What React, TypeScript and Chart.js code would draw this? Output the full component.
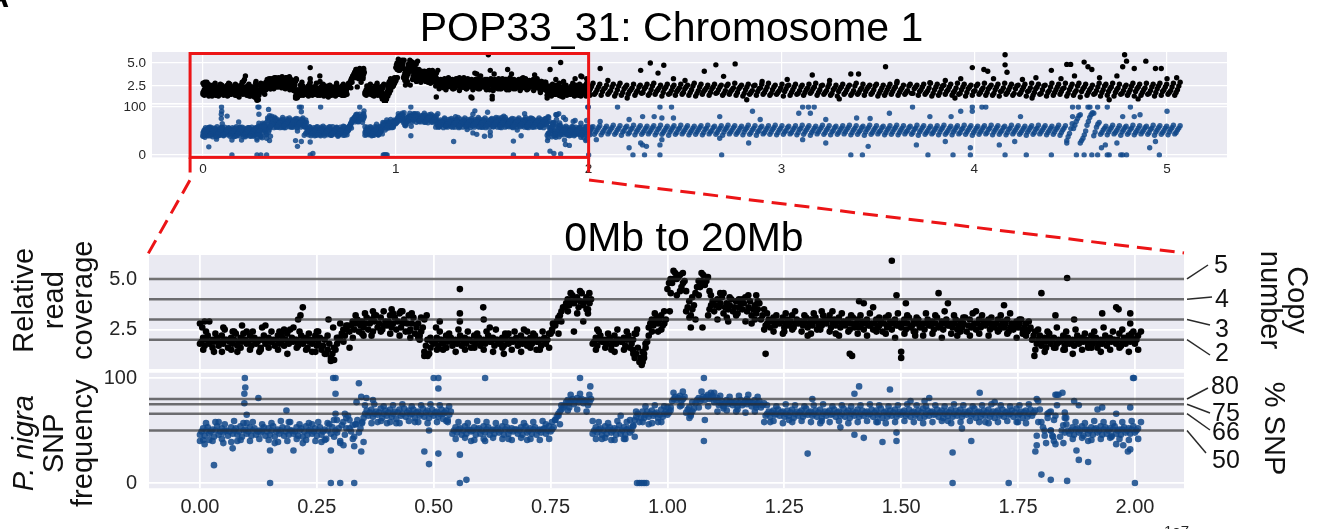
import React, { useEffect, useRef } from "react";
import { Chart, registerables } from "chart.js";

Chart.register(...registerables);

const W = 1324;
const H = 529;
const FONT = "'Liberation Sans', Arial, Helvetica, sans-serif";
const TICK_COLOR = "#262626";
const BG = "#EAEAF2";
const BLACK = "#000000";
const BLUE = "rgba(16,72,138,0.85)";

// ---------------- DATA (genomic position in units of 1e7 bp) ----------------
const BOT_STEP = 0.01; // window size of the zoomed (0-20Mb) panels
const FRINGE_STEP = 0.02; // sparser windows forming the edges of the clouds
const TOP_STEP = 0.035; // window size of the whole-chromosome panels

// zoomed panel, relative read coverage (low / mid / high part of the window cloud)
const botCovA = [
  1.8,1.7,1.8,1.9,1.7,1.8,1.6,1.8,1.7,1.9,
  1.8,1.7,1.8,1.6,1.8,1.9,1.7,1.8,1.7,1.8,
  1.9,1.7,1.8,1.6,1.8,1.7,
  1.5,1.3,1.1,1.5,
  2.0,2.2,2.4,
  2.5,2.4,2.6,2.5,2.4,2.6,2.5,2.7,2.6,2.5,2.6,2.4,2.5,2.3,2.2,
  1.4,1.3,
  1.8,1.7,1.8,1.9,1.7,1.8,1.7,1.8,1.6,1.8,
  1.7,1.8,1.9,1.7,1.8,1.7,1.8,1.9,1.7,1.8,
  1.7,1.8,1.9,1.7,1.8,
  2.3,2.7,3.2,
  3.6,3.7,3.8,3.6,3.7,3.5,
  1.8,1.7,1.9,1.8,1.7,1.8,1.9,1.7,1.6,
  1.1,0.9,1.3,
  2.6,2.7,2.8,2.7,
  4.5,4.8,5.0,4.6,
  3.4,3.2,
  4.3,4.6,4.7,
  3.5,3.4,3.6,3.3,3.5,3.4,3.3,3.5,3.4,3.2,3.3,3.0,
  2.7,2.6,2.7,2.8,2.6,2.7,2.6,2.8,2.7,2.6,2.7,2.5,2.7,2.8,2.6,2.7,2.6,2.7,2.5,2.6,
  2.6,2.5,2.7,2.5,2.6,2.4,2.6,2.5,2.7,2.6,
  2.5,2.6,2.4,2.6,2.5,2.7,2.5,2.6,2.5,2.7,
  2.6,2.5,2.6,2.4,2.6,2.5,2.6,2.7,2.5,2.6,
  2.5,2.6,2.4,2.5,2.6,2.5,2.4,
  2.0,1.8,1.7,1.9,1.8,1.6,1.9,1.7,1.8,1.7,
  1.8,1.9,1.7,1.8,1.6,1.8,1.7,1.9,1.8,1.7,
  1.8,1.9,1.8,
];
const botCovM = [
  1.9,2.0,1.9,2.0,1.9,2.0,1.9,2.0,1.9,2.0,
  1.9,2.0,1.9,2.0,1.9,1.9,2.0,1.9,2.0,1.9,
  2.0,1.9,2.0,1.9,2.0,1.9,
  1.7,1.5,1.3,1.8,
  2.3,2.5,2.7,
  2.8,2.7,2.8,2.8,2.9,2.8,2.7,2.9,2.8,2.9,2.8,2.8,2.8,2.6,2.4,
  1.7,1.6,
  1.9,2.0,1.9,2.0,1.9,2.0,1.9,2.0,1.9,2.0,
  1.9,2.0,1.9,2.0,1.9,2.0,1.9,2.0,1.9,2.0,
  1.9,2.0,1.9,2.0,2.0,
  2.5,2.9,3.4,
  3.8,3.9,4.0,3.9,3.9,3.8,
  1.9,2.0,1.9,2.0,1.9,2.0,1.9,2.0,1.8,
  1.3,1.1,1.6,
  2.8,2.9,3.0,2.8,
  4.8,5.0,5.1,4.8,
  3.6,3.5,
  4.6,4.9,4.9,
  3.7,3.7,3.8,3.6,3.7,3.6,3.6,3.8,3.6,3.5,3.5,3.2,
  2.8,2.9,2.8,2.9,2.8,2.9,2.8,2.9,2.9,2.8,2.9,2.7,2.8,3.0,2.8,2.9,2.8,2.8,2.8,2.8,
  2.7,2.8,2.7,2.8,2.7,2.8,2.7,2.8,2.7,2.8,
  2.8,2.7,2.8,2.7,2.8,2.7,2.8,2.7,2.8,2.7,
  2.8,2.7,2.8,2.7,2.7,2.8,2.7,2.8,2.7,2.8,
  2.7,2.8,2.6,2.7,2.8,2.6,2.5,
  2.2,2.0,1.9,2.1,2.0,1.8,2.0,1.9,1.9,2.0,
  1.9,2.0,1.9,2.0,1.8,2.0,1.9,2.0,2.0,1.9,
  2.0,2.1,2.0,
];
const botCovB = [
  2.1,2.2,2.0,2.1,2.2,2.0,2.1,2.3,2.1,2.0,
  2.2,2.1,2.0,2.2,2.1,2.0,2.2,2.1,2.3,2.1,
  2.0,2.2,2.1,2.0,2.2,2.1,
  2.0,1.8,1.6,2.1,
  2.5,2.7,2.9,
  3.0,2.9,3.1,3.0,3.2,3.1,2.9,3.2,3.1,3.3,3.0,3.2,3.1,2.8,2.6,
  2.0,1.9,
  2.1,2.0,2.2,2.1,2.0,2.2,2.1,2.0,2.2,2.1,
  2.0,2.2,2.1,2.0,2.1,2.2,2.0,2.1,2.2,2.0,
  2.1,2.2,2.0,2.1,2.3,
  2.7,3.1,3.6,
  4.0,4.2,4.1,4.3,4.1,4.0,
  2.1,2.2,2.0,2.1,2.2,2.0,2.1,2.2,2.0,
  1.6,1.4,1.9,
  3.0,3.1,3.2,3.0,
  5.0,5.3,5.2,4.9,
  3.9,3.7,
  4.9,5.2,5.1,
  3.9,4.0,4.1,3.8,4.0,3.9,3.8,4.1,3.9,3.7,3.8,3.5,
  3.0,3.1,2.9,3.1,3.0,3.2,3.0,2.9,3.1,3.0,3.1,2.9,3.0,3.2,3.0,3.1,2.9,3.0,3.1,3.0,
  2.9,3.0,2.8,3.0,2.9,3.1,2.9,3.0,2.8,3.0,
  3.1,2.9,3.0,2.8,3.0,2.9,3.1,2.9,3.0,2.8,
  3.0,2.9,3.1,3.0,2.8,3.0,2.9,3.0,2.8,3.0,
  2.9,3.0,2.8,2.9,3.0,2.8,2.6,
  2.4,2.2,2.1,2.3,2.1,2.0,2.2,2.1,2.0,2.2,
  2.1,2.0,2.2,2.1,2.0,2.2,2.1,2.0,2.3,2.1,
  2.2,2.4,2.2,
];
// sparser lower / upper edge of the coverage cloud
const botCovLo = [
  1.5,1.6,1.4,1.5,1.6,1.5,1.4,1.6,1.5,1.3,1.6,1.5,1.4,
  1.3,1.0,1.9,
  2.1,2.3,2.2,2.4,2.3,2.2,2.4,2.1,
  1.2,
  1.5,1.6,1.4,1.5,1.6,1.5,1.4,1.6,1.5,1.4,1.6,1.5,1.6,
  2.3,
  3.4,3.3,3.5,
  1.5,1.6,1.4,1.5,1.3,
  0.9,
  2.4,2.5,
  4.3,4.4,
  3.1,
  4.2,
  3.2,3.0,3.1,3.2,2.9,3.0,
  2.5,2.4,2.3,2.5,2.4,2.3,2.5,2.4,2.2,2.4,
  2.3,2.2,2.4,2.3,2.1,2.3,2.4,2.2,2.3,2.1,2.3,2.4,2.2,2.3,2.2,2.4,2.3,2.1,2.2,
  1.5,1.4,1.6,1.5,1.3,1.5,1.6,1.4,1.5,1.6,1.4,1.5,
];
const botCovHi = [
  2.4,2.3,2.5,2.4,2.3,2.4,2.6,2.4,2.3,2.5,2.4,2.3,2.4,
  2.2,2.1,2.7,
  3.2,3.3,3.2,3.4,3.3,3.4,3.3,3.1,
  2.1,
  2.4,2.3,2.5,2.4,2.3,2.4,2.5,2.3,2.4,2.5,2.3,2.4,2.4,
  2.9,
  4.3,4.4,4.3,
  2.4,2.3,2.5,2.4,2.3,
  1.8,
  3.3,3.4,
  5.4,5.3,
  4.1,
  5.3,
  4.2,4.3,4.1,4.0,4.2,3.9,
  3.3,3.2,3.3,3.4,3.2,3.3,3.2,3.4,3.3,3.2,
  3.2,3.3,3.1,3.2,3.3,3.2,3.1,3.3,3.2,3.4,3.2,3.1,3.3,3.2,3.1,3.2,3.3,3.0,2.9,
  2.5,2.4,2.6,2.4,2.5,2.3,2.4,2.6,2.4,2.5,2.3,2.4,
];
const botCovOut = [
  [0.0,2.8],[0.005,2.6],[0.01,2.9],[0.02,2.9],[0.03,1.4],[0.05,2.6],[0.07,2.4],[0.08,1.4],
  [0.09,2.7],[0.1,2.4],[0.13,1.5],[0.14,2.7],[0.17,2.4],[0.18,2.5],[0.2,2.6],[0.21,3.0],
  [0.215,3.2],[0.24,1.4],[0.22,3.6],[0.25,2.4],[0.28,0.95],[0.275,3.0],[0.285,2.6],[0.3,2.8],
  [0.32,1.6],[0.35,2.2],[0.37,3.4],[0.41,3.5],[0.43,3.4],[0.45,2.1],[0.47,2.0],[0.48,1.2],
  [0.49,1.3],[0.48,3.0],[0.485,3.2],[0.505,2.6],[0.513,2.9],[0.52,1.5],[0.556,4.5],[0.556,3.3],
  [0.556,2.9],[0.606,3.6],[0.607,3.0],[0.62,2.6],[0.65,1.3],[0.66,2.3],[0.7,2.4],[0.72,1.5],
  [0.755,2.8],[0.8,2.4],[0.82,2.9],[0.83,3.3],[0.85,2.5],[0.88,1.5],[0.926,1.5],[0.93,2.3],
  [0.935,2.5],[0.945,0.75],[0.95,1.1],[0.96,2.2],[0.98,2.4],[1.005,3.4],[1.02,4.2],[1.04,4.4],
  [1.05,2.6],[1.06,3.0],[1.075,2.6],[1.09,4.4],[1.12,4.3],[1.13,2.9],[1.16,4.0],[1.18,2.8],
  [1.19,4.2],[1.21,1.3],[1.25,2.4],[1.3,2.2],[1.33,3.4],[1.36,2.3],[1.395,1.2],[1.41,3.9],
  [1.39,1.3],[1.42,3.8],[1.44,3.6],[1.48,5.9],[1.49,4.2],[1.5,1.4],[1.5,1.1],[1.51,3.8],
  [1.53,2.2],[1.58,4.3],[1.6,3.8],[1.62,2.2],[1.66,3.4],[1.72,3.7],[1.76,2.3],[1.785,1.2],
  [1.8,4.3],[1.81,1.6],[1.83,3.2],[1.855,5.05],[1.85,1.5],[1.87,3.0],[1.9,1.6],[1.93,3.3],
  [1.96,3.6],[1.965,3.5],[1.97,1.7],[1.99,3.3],[1.99,2.8],[2.0,2.0],
];

// zoomed panel, P. nigra SNP frequency (%)
const botSnpA = [
  46,45,47,44,46,48,45,47,46,44,47,45,46,48,45,46,44,47,45,46,47,45,44,46,47,45,46,
  42,47,50,40,46,52,44,48,
  62,64,63,65,62,64,63,61,64,63,65,62,64,63,62,64,63,61,60,
  47,48,46,47,49,46,47,48,46,47,48,46,47,49,47,46,48,47,46,48,47,49,
  60,68,74,76,75,77,76,74,
  47,48,46,47,48,46,47,46,48,
  60,58,
  62,63,64,62,63,65,
  78,79,78,
  67,66,
  76,78,79,80,77,
  74,73,75,74,73,74,75,73,74,72,
  64,63,65,64,63,64,62,64,63,65,
  64,63,62,64,65,63,64,63,62,64,
  63,64,65,63,64,62,63,64,63,65,
  64,63,64,62,63,64,65,63,62,64,
  63,64,63,65,64,62,63,64,63,62,
  64,63,65,63,64,62,63,64,
  45,58,38,50,64,44,62,
  47,46,48,45,47,46,48,46,47,45,47,46,48,47,48,
];
const botSnpM = [
  49,50,49,50,49,50,49,50,49,50,49,50,49,50,49,50,49,50,49,50,49,50,49,50,49,50,49,
  50,53,48,55,52,49,56,52,
  66,67,66,67,66,67,66,67,66,67,66,67,66,67,66,67,66,67,65,
  50,51,50,51,50,51,50,51,50,51,50,51,50,51,50,51,50,51,50,51,50,51,
  63,70,77,78,78,79,78,77,
  50,51,50,51,50,51,50,51,50,
  63,62,
  65,66,66,65,66,67,
  80,81,80,
  70,68,
  79,80,82,81,79,
  76,76,77,76,76,76,77,76,76,74,
  66,67,66,67,66,67,66,67,66,67,
  66,67,66,67,66,67,66,67,66,67,
  66,67,66,67,66,67,66,67,66,67,
  66,67,66,67,66,67,66,67,66,67,
  66,67,66,67,66,67,66,67,66,67,
  66,67,66,67,66,67,66,67,
  58,53,62,45,74,50,56,
  50,51,50,51,50,51,50,51,50,51,50,51,50,51,50,
];
const botSnpB = [
  52,53,51,54,52,50,53,52,54,51,53,52,50,53,52,54,51,53,52,50,53,52,54,51,52,53,51,
  56,60,52,58,64,55,60,57,
  69,70,68,71,69,70,68,70,71,69,70,68,71,69,70,68,70,69,68,
  53,52,54,51,53,52,54,53,51,52,54,53,52,51,53,54,52,53,51,52,54,53,
  66,72,79,80,81,80,79,80,
  53,52,54,53,52,55,53,52,54,
  66,68,
  68,69,67,70,68,69,
  82,83,82,
  72,71,
  81,82,84,83,81,
  78,79,77,78,79,78,77,79,78,76,
  68,69,70,68,69,70,68,69,71,68,
  69,70,68,69,70,68,71,69,68,70,
  69,68,70,69,71,68,69,70,68,69,
  70,68,69,71,69,68,70,69,68,70,
  69,70,68,69,71,68,69,70,68,69,
  70,68,69,71,68,69,70,69,
  70,50,67,40,84,55,50,
  53,52,54,51,53,52,54,53,52,54,51,53,52,54,52,
];
const botSnpLo = [
  41,40,42,39,41,40,42,41,39,40,42,41,40,
  41,44,36,42,
  58,57,59,58,57,59,58,57,58,59,
  42,43,41,42,43,42,41,43,42,41,42,
  64,
  69,70,68,
  42,43,41,42,
  55,
  58,57,58,
  72,73,
  62,
  72,73,
  68,69,68,67,68,
  58,59,57,58,59,58,57,58,59,57,58,59,58,57,58,59,58,57,58,59,57,58,59,58,57,58,59,58,57,
  30,45,60,38,
  42,43,41,42,43,42,41,42,
];
const botSnpHi = [
  57,58,56,59,57,58,56,57,59,58,56,57,58,
  57,60,62,56,
  74,75,73,74,75,73,74,75,74,73,
  58,57,59,58,57,58,59,57,58,59,58,
  74,
  84,85,84,
  58,57,59,58,
  68,
  73,74,73,
  86,87,
  77,
  87,86,
  83,82,83,84,82,
  74,73,75,74,73,74,75,73,74,73,74,75,74,73,74,75,74,73,74,73,75,74,73,74,75,74,73,74,75,
  78,66,84,62,
  58,57,59,58,57,58,59,58,
];
const botSnpOut = [
  [0.0,40],[0.01,37],[0.02,41],[0.03,17],[0.04,58],[0.05,38],[0.07,33],[0.08,40],[0.096,100],
  [0.097,91],[0.095,85],[0.095,76],[0.1,65],[0.1,57],[0.125,81],[0.15,31],[0.15,0],[0.16,38],
  [0.185,69],[0.19,58],[0.2,31],[0.22,38],[0.24,56],[0.26,39],[0.28,31],[0.285,100],[0.29,100],
  [0.29,85],[0.29,66],[0.28,0],[0.3,0],[0.3,38],[0.31,66],[0.32,60],[0.33,0],[0.33,35],[0.335,77],
  [0.34,95],[0.345,82],[0.345,30],[0.35,39],[0.356,81],[0.37,79],[0.38,58],[0.4,57],[0.42,57],
  [0.46,58],[0.48,30],[0.49,18],[0.49,50],[0.5,100],[0.51,100],[0.51,90],[0.51,28],[0.52,66],
  [0.53,58],[0.556,27],[0.556,0],[0.57,3],[0.58,40],[0.61,100],[0.61,40],[0.66,42],[0.7,41],
  [0.74,56],[0.76,60],[0.77,56],[0.79,72],[0.813,100],[0.835,92],[0.84,59],[0.86,42],[0.88,41],
  [0.9,64],[0.91,42],[0.92,60],[0.93,44],[0.935,0],[0.94,0],[0.945,0],[0.95,0],[0.955,0],
  [0.96,56],[0.98,58],[1.0,72],[1.03,74],[1.05,64],[1.078,100],[1.078,40],[1.08,60],[1.1,86],
  [1.12,71],[1.15,70],[1.17,80],[1.19,72],[1.22,58],[1.26,60],[1.3,28],[1.31,80],[1.33,59],
  [1.37,53],[1.4,85],[1.4,46],[1.41,92],[1.42,43],[1.45,58],[1.46,39],[1.476,89],[1.49,40],
  [1.49,48],[1.52,78],[1.56,81],[1.55,78],[1.6,59],[1.61,29],[1.61,0],[1.63,52],[1.65,40],
  [1.668,86],[1.68,58],[1.7,77],[1.73,0],[1.75,58],[1.79,80],[1.79,36],[1.8,8],[1.82,3],
  [1.82,50],[1.82,68],[1.825,44],[1.83,37],[1.83,84],[1.845,86],[1.85,67],[1.855,2],[1.85,48],
  [1.87,78],[1.88,74],[1.875,31],[1.88,22],[1.9,20],[1.9,40],[1.92,70],[1.93,72],[1.95,44],
  [1.96,66],[1.96,37],[1.975,36],[1.99,32],[1.99,72],[1.985,30],[1.996,100],[1.998,100],[2.0,0],
];

// whole chromosome, relative read coverage (five parts of the window cloud, low to high: A D B E C)
const topCovA = [
  1.6,1.7,1.5,1.7,1.6,1.5,1.7,1.6, 1.2, 2.3,2.2,2.4,2.3,2.2, 1.3,
  1.6,1.7,1.5,1.6,1.7,1.6,1.5, 3.3,3.4, 1.6,1.7,1.6, 0.9, 2.4, 4.2, 3.3, 4.1, 3.1,3.0,3.2,
  2.2,2.1,2.2,2.0,2.2,2.1,2.2,2.1,2.0,2.2,2.1,2.2,2.0,2.1,2.0,1.8,
  1.5,1.6,1.4,1.6,1.5,1.4,1.6,
  1.6,1.5,1.6,1.4,1.5,1.6,1.5,1.7,1.5,1.6,
  1.4,1.6,1.5,1.6,1.5,1.4,1.6,1.5,1.7,1.5,
  1.6,1.5,1.4,1.6,1.5,1.6,1.5,1.6,1.4,1.5,
  1.6,1.5,1.7,1.5,1.6,1.5,1.4,1.6,1.5,1.6,
  1.5,1.6,1.4,1.5,1.6,1.5,1.6,1.7,1.5,1.6,
  1.4,1.5,1.6,1.5,1.6,1.4,1.5,1.6,1.5,1.5,
  1.4,1.6,1.5,1.6,1.4,1.5,1.6,1.4,1.5,1.6,
  1.4,1.5,1.3,1.5,1.6,1.4,1.5,1.4,1.6,1.5,
  1.4,1.5,1.6,1.4,1.5,1.6,1.5,
];
const topCovD = [
  1.9,2.0,1.8,1.9,2.0,1.8,1.9,1.9, 1.5, 2.5,2.6,2.5,2.6,2.5, 1.6,
  1.9,2.0,1.8,1.9,2.0,1.9,1.8, 3.5,3.6, 1.9,1.8,1.9, 1.1, 2.6, 4.5, 3.5, 4.4, 3.3,3.3,3.4,
  2.4,2.4,2.5,2.3,2.4,2.4,2.5,2.4,2.3,2.4,2.4,2.5,2.3,2.4,2.3,2.1,
  1.8,1.9,1.7,1.9,1.8,1.7,1.9,
  1.8,1.9,1.8,1.7,1.8,1.9,1.8,1.8,1.7,1.9,
  1.8,1.7,1.9,1.8,1.8,1.7,1.9,1.8,1.8,1.7,
  1.9,1.8,1.7,1.8,1.9,1.8,1.7,1.8,1.9,1.8,
  1.7,1.8,1.9,1.8,1.8,1.7,1.9,1.8,1.7,1.8,
  1.9,1.8,1.7,1.8,1.9,1.8,1.8,1.7,1.9,1.8,
  1.7,1.8,1.9,1.8,1.7,1.8,1.9,1.8,1.8,1.7,
  1.9,1.8,1.7,1.8,1.9,1.8,1.7,1.8,1.8,1.9,
  1.7,1.8,1.9,1.8,1.7,1.8,1.9,1.8,1.7,1.8,
  1.9,1.8,1.7,1.8,1.9,1.8,1.8,
];
const topCovB = [
  2.2,2.1,2.3,2.2,2.1,2.3,2.2,2.1, 1.8, 2.8,2.9,2.7,2.9,2.8, 1.9,
  2.2,2.1,2.2,2.3,2.1,2.2,2.3, 3.8,3.9, 2.2,2.1,2.2, 1.4, 2.9, 4.8, 3.8, 4.7, 3.6,3.5,3.7,
  2.7,2.6,2.7,2.8,2.6,2.7,2.6,2.7,2.8,2.6,2.7,2.6,2.7,2.6,2.5,2.4,
  2.1,2.2,2.0,2.2,2.1,2.0,2.2,
  2.1,2.2,2.0,2.1,2.2,2.1,2.0,2.2,2.1,2.1,
  2.2,2.0,2.1,2.2,2.1,2.0,2.1,2.2,2.1,2.0,
  2.1,2.2,2.1,2.0,2.2,2.1,2.1,2.0,2.2,2.1,
  2.0,2.1,2.2,2.1,2.0,2.1,2.2,2.1,2.0,2.1,
  2.2,2.1,2.0,2.1,2.2,2.1,2.0,2.2,2.1,2.0,
  2.1,2.2,2.1,2.0,2.1,2.2,2.0,2.1,2.2,2.1,
  2.0,2.1,2.2,2.1,2.0,2.2,2.1,2.0,2.1,2.2,
  2.1,2.0,2.2,2.1,2.0,2.1,2.2,2.1,2.0,2.1,
  2.2,2.1,2.0,2.2,2.1,2.0,2.1,
];
const topCovE = [
  2.5,2.4,2.5,2.6,2.4,2.5,2.5,2.4, 2.1, 3.1,3.1,3.0,3.2,3.1, 2.2,
  2.5,2.4,2.5,2.5,2.4,2.5,2.6, 4.1,4.1, 2.5,2.4,2.5, 1.7, 3.1, 5.0, 4.1, 4.9, 3.9,3.8,3.9,
  3.0,2.9,3.0,3.0,2.9,3.0,2.9,3.0,3.0,2.9,3.0,2.9,3.0,2.9,2.8,2.7,
  2.4,2.5,2.3,2.5,2.4,2.3,2.5,
  2.4,2.3,2.4,2.5,2.4,2.3,2.4,2.4,2.5,2.3,
  2.4,2.4,2.3,2.4,2.5,2.4,2.3,2.4,2.4,2.5,
  2.3,2.4,2.4,2.5,2.3,2.4,2.4,2.3,2.5,2.4,
  2.4,2.3,2.4,2.5,2.4,2.3,2.4,2.4,2.5,2.3,
  2.4,2.5,2.3,2.4,2.4,2.3,2.5,2.4,2.4,2.3,
  2.4,2.5,2.4,2.3,2.4,2.4,2.5,2.3,2.4,2.4,
  2.3,2.4,2.5,2.4,2.3,2.4,2.5,2.4,2.4,2.3,
  2.4,2.5,2.4,2.3,2.4,2.5,2.4,2.3,2.4,2.5,
  2.4,2.3,2.4,2.5,2.4,2.4,2.5,
];
const topCovC = [
  2.7,2.8,2.6,2.8,2.7,2.9,2.7,2.8, 2.4, 3.3,3.4,3.3,3.5,3.3, 2.5,
  2.7,2.8,2.7,2.6,2.8,2.7,2.8, 4.3,4.4, 2.7,2.8,2.7, 2.0, 3.4, 5.3, 4.3, 5.2, 4.1,4.0,4.2,
  3.2,3.1,3.3,3.2,3.1,3.3,3.2,3.1,3.3,3.2,3.1,3.2,3.3,3.1,3.0,2.9,
  2.7,2.8,2.6,2.8,2.7,2.6,2.8,
  2.7,2.6,2.7,2.8,2.6,2.7,2.6,2.7,2.8,2.6,
  2.7,2.6,2.7,2.6,2.8,2.7,2.6,2.7,2.6,2.7,
  2.8,2.6,2.7,2.6,2.7,2.8,2.6,2.7,2.6,2.7,
  2.6,2.7,2.8,2.6,2.7,2.6,2.7,2.6,2.8,2.7,
  2.6,2.7,2.6,2.7,2.8,2.6,2.7,2.6,2.7,2.8,
  2.7,2.6,2.7,2.8,2.7,2.6,2.7,2.8,2.6,2.7,
  2.8,2.7,2.6,2.7,2.8,2.7,2.6,2.8,2.7,2.8,
  2.7,2.8,2.7,2.6,2.8,2.7,2.8,2.7,2.6,2.8,
  2.7,2.8,2.7,2.8,2.7,2.8,2.9,
];
const topCovOut = [
  [2.06,4.4],[2.1,3.1],[2.27,4.2],[2.32,5.0],[2.36,3.9],[2.39,4.75],[2.44,3.3],[2.5,3.1],
  [2.6,4.1],[2.66,4.8],[2.7,3.55],[2.76,4.9],[2.82,1.0],[2.9,3.0],[3.03,3.2],[3.16,3.7],
  [3.25,3.1],[3.36,3.8],[3.4,3.8],[3.54,4.6],[3.6,3.0],[3.77,2.85],[3.85,3.1],[3.93,3.3],
  [3.99,4.5],[4.05,4.3],[4.07,4.1],[4.1,3.3],[4.16,5.9],[4.16,4.8],[4.17,4.0],[4.25,3.2],
  [4.32,3.4],[4.4,4.2],[4.45,3.3],[4.48,4.85],[4.5,4.85],[4.52,3.6],[4.57,5.1],[4.59,4.6],
  [4.61,4.3],[4.65,3.4],[4.74,3.6],[4.77,4.6],[4.78,5.9],[4.79,5.2],[4.83,4.4],[4.89,5.2],
  [4.94,4.4],[4.97,4.4],[5.0,3.3],[5.05,3.4],[2.2,1.2],[3.3,1.1],[3.9,1.2],[4.3,1.2],
  [4.7,1.0],[4.85,1.1],
];

// whole chromosome, SNP frequency (%) (five parts, low to high: A D B E C)
const topSnpA = [
  39,40,38,41,39,40,38,39, 35, 59,60,58,61,59,58,
  41,40,42,40,41,39,41, 68,69, 41,40,42, 52, 57, 71, 61, 69,70,68,69,
  59,60,58,60,59,61,58,60,59,58,60,59,61,59,58,60,
  41,40,42,41,40,42,41,
  43,42,44,43,41,44,42,43,44,42,
  43,41,43,44,42,43,42,44,43,41,
  44,43,42,43,41,44,43,42,43,44,
  42,43,41,44,43,42,43,44,42,43,
  41,43,44,42,43,42,44,43,41,43,
  44,42,43,42,44,43,41,43,44,42,
  43,42,44,43,41,43,44,42,43,41,
  30,55,25,62,40,43,42,44,41,43,
  42,44,43,41,43,42,44,
];
const topSnpD = [
  44,43,44,43,45,44,43,44, 42, 63,64,63,64,63,63,
  45,45,46,45,45,44,46, 72,73, 45,44,46, 56, 61, 75, 65, 73,74,72,73,
  63,64,63,64,63,64,63,64,63,63,64,63,64,63,63,64,
  45,44,46,45,44,46,45,
  48,47,48,47,48,47,48,47,48,47,
  47,48,47,48,47,48,47,48,47,48,
  48,47,48,47,48,47,48,47,48,47,
  47,48,47,48,47,48,47,48,47,48,
  48,47,48,47,48,47,48,47,48,47,
  47,48,47,48,47,48,47,48,47,48,
  48,47,48,47,48,47,48,47,48,47,
  38,62,30,70,48,47,48,47,48,47,
  47,48,47,48,47,48,47,
];
const topSnpB = [
  48,49,47,48,50,48,47,49, 50, 68,69,67,68,69,67,
  50,49,51,50,49,50,51, 77,78, 50,49,51, 60, 66, 80, 70, 78,79,77,78,
  68,69,67,68,69,68,67,69,68,67,69,68,69,67,68,69,
  50,49,51,50,49,51,50,
  52,51,53,52,51,53,52,51,52,53,
  51,52,53,52,51,52,53,51,52,53,
  52,51,53,52,51,52,53,52,51,52,
  53,52,51,53,52,51,52,53,52,51,
  53,52,51,52,53,52,51,53,52,51,
  52,53,51,52,53,52,51,52,53,52,
  51,53,52,51,52,53,52,51,53,52,
  45,70,35,78,58,52,53,51,52,53,
  51,52,53,52,51,53,52,
];
const topSnpE = [
  53,52,53,52,54,53,52,53, 57, 72,73,72,73,72,72,
  55,54,55,54,55,54,55, 81,82, 55,54,55, 64, 70, 84, 74, 82,83,81,82,
  72,73,72,73,72,73,72,73,72,72,73,72,73,72,72,73,
  55,54,55,54,55,54,55,
  57,56,57,56,57,56,57,56,57,56,
  56,57,56,57,56,57,56,57,56,57,
  57,56,57,56,57,56,57,56,57,56,
  56,57,56,57,56,57,56,57,56,57,
  57,56,57,56,57,56,57,56,57,56,
  56,57,56,57,56,57,56,57,56,57,
  57,56,57,56,57,56,57,56,57,56,
  55,76,42,84,64,56,57,56,57,56,
  56,57,56,57,56,57,56,
];
const topSnpC = [
  57,56,58,57,56,58,57,56, 62, 77,76,78,77,76,77,
  59,58,60,59,58,60,59, 85,86, 59,58,60, 68, 74, 88, 78, 86,87,85,86,
  77,76,78,77,76,78,77,76,77,78,76,77,78,76,77,76,
  59,58,60,59,58,60,59,
  61,60,62,61,60,62,61,60,61,62,
  60,61,62,61,60,61,62,60,61,62,
  61,60,62,61,60,61,62,61,60,61,
  62,61,60,62,61,60,61,62,61,60,
  62,61,60,61,62,61,60,62,61,60,
  61,62,60,61,62,61,60,61,62,61,
  60,62,61,60,61,62,61,60,62,61,
  65,82,50,88,68,60,62,61,60,62,
  61,60,62,61,60,62,61,
];
const topSnpOut = [
  [2.15,100],[2.37,100],[2.43,100],[3.11,100],[3.14,100],[3.17,100],[3.68,100],[3.99,100],
  [4.04,100],[4.06,100],[4.51,100],[4.54,100],[4.59,100],[4.6,100],[4.64,100],[4.69,100],[4.81,100],
  [2.06,70],[2.21,74],[2.28,80],[2.34,80],[2.38,77],[2.44,77],[2.68,80],[2.85,91],[2.89,74],
  [3.09,87],[3.15,87],[3.23,74],[3.39,77],[3.46,76],[3.56,87],[3.77,80],[3.88,80],[3.93,91],
  [3.99,91],[4.24,80],[4.51,80],[4.55,84],[4.62,87],[4.77,80],[4.83,80],[4.86,84],[5.0,91],
  [2.04,32],[2.21,15],[2.27,25],[2.28,21],[2.3,18],[2.37,21],[2.38,32],[2.68,35],[2.83,25],
  [3.11,32],[3.23,25],[3.45,18],[3.7,21],[3.85,28],[3.98,15],[4.13,21],[4.21,28],[4.48,25],
  [4.66,15],[4.68,21],[4.74,25],[4.91,15],[4.94,28],
  [2.23,0],[2.29,0],[2.37,0],[2.69,0],[3.36,0],[3.42,0],[3.76,0],[3.89,0],[3.98,0],[4.16,0],
  [4.27,0],[4.4,0],[4.53,0],[4.57,0],[4.61,0],[4.64,0],[4.69,0],[4.7,0],[4.76,0],[4.77,0],
  [4.79,0],[4.96,0],
];

// axes / annotation values
const topXTicks = [0, 1, 2, 3, 4, 5];
const botXTicks = [0, 0.25, 0.5, 0.75, 1, 1.25, 1.5, 1.75, 2];
const covTicks = [2.5, 5.0];
const snpTicks = [0, 100];
const copyLevels = [5, 4, 3, 2];
const snpLevels = [80, 75, 66, 50];
const zoomWindow = [-0.067, 2.0];

// ---------------- LAYOUT ----------------
const TC = { l: 152, t: 52, r: 1227, b: 103 };
const TS = { l: 152, t: 104.6, r: 1227, b: 157.4 };
const BC = { l: 149, t: 255, r: 1184, b: 369 };
const BS = { l: 149, t: 372.75, r: 1184, b: 488.25 };
const Y_AXIS_W = 100;
const copyLabelPos = [[1221, 264], [1222, 298], [1222, 328], [1222, 352]];
const copyLeaderEnd = [[1208, 265], [1212, 297], [1210, 325], [1210, 355]];
const snpLabelPos = [[1225, 385], [1226, 412], [1226, 431], [1226, 459]];
const snpLeaderEnd = [[1208, 388], [1210, 413], [1210, 430], [1206, 453]];

const rowPts = (vals: number[], step: number, off: number) =>
  vals.map((v, i) => ({ x: i * step + off, y: v }));
const pairPts = (p: number[][]) => p.map(([x, y]) => ({ x, y }));

const ds = (data: any[], color: string, r: number) => ({
  data,
  pointRadius: r,
  pointHoverRadius: r,
  pointBackgroundColor: color,
  pointBorderWidth: 0,
  pointBorderColor: color,
  showLine: false,
});

const bgPlugin = {
  id: "bgfill",
  beforeDraw(chart: any) {
    const { ctx, chartArea: a } = chart;
    ctx.save();
    ctx.fillStyle = BG;
    ctx.fillRect(a.left, a.top, a.right - a.left, a.bottom - a.top);
    ctx.restore();
  },
};

const refLinesPlugin = (levels: number[]) => ({
  id: "reflines",
  afterDatasetsDraw(chart: any) {
    const { ctx, chartArea: a } = chart;
    const ys = chart.scales.y;
    ctx.save();
    ctx.strokeStyle = "rgba(40,40,40,0.65)";
    ctx.lineWidth = 2.5;
    levels.forEach((v) => {
      const y = ys.getPixelForValue(v);
      ctx.beginPath();
      ctx.moveTo(a.left, y);
      ctx.lineTo(a.right, y);
      ctx.stroke();
    });
    ctx.restore();
  },
});

const leaderPlugin = (levels: number[], ends: number[][]) => ({
  id: "leaders",
  afterDraw(chart: any) {
    const { ctx, chartArea: a } = chart;
    const ys = chart.scales.y;
    ctx.save();
    ctx.strokeStyle = "#2a2a2a";
    ctx.lineWidth = 1.5;
    levels.forEach((v, i) => {
      const y = ys.getPixelForValue(v);
      ctx.beginPath();
      ctx.moveTo(a.right + 3, y);
      ctx.lineTo(ends[i][0], ends[i][1]);
      ctx.stroke();
    });
    ctx.restore();
  },
});

const zoomBoxPlugin = {
  id: "zoombox",
  afterDraw(chart: any) {
    const { ctx } = chart;
    const xs = chart.scales.x;
    const x0 = xs.getPixelForValue(zoomWindow[0]);
    const x1 = xs.getPixelForValue(zoomWindow[1]);
    const top = TC.t + 1.5;
    const bot = TS.b;
    ctx.save();
    ctx.strokeStyle = "rgb(236,20,22)";
    ctx.lineWidth = 3;
    ctx.strokeRect(x0, top, x1 - x0, bot - top);
    ctx.setLineDash([15, 8]);
    ctx.beginPath();
    ctx.moveTo(x0, bot);
    ctx.lineTo(x0, 180);
    ctx.lineTo(BC.l - 1, BC.t - 1);
    ctx.stroke();
    ctx.beginPath();
    ctx.moveTo(x1, bot);
    ctx.lineTo(x1, 180);
    ctx.lineTo(BC.r, BC.t - 2);
    ctx.stroke();
    ctx.restore();
  },
};

type Spec = {
  area: { l: number; t: number; r: number; b: number };
  x: number[];
  y: number[];
  xTicks: number[];
  xFmt: (v: number) => string;
  showX: boolean;
  xAxisH: number;
  xPad: number;
  yTicks: number[];
  yFmt: (v: number) => string;
  yPad: number;
  fontSize: number;
  gridW: number;
  datasets: any[];
  plugins: any[];
};

function buildChart(canvas: HTMLCanvasElement, s: Spec) {
  const a = s.area;
  const xh = s.showX ? s.xAxisH : 0;
  return new Chart(canvas, {
    type: "scatter",
    data: { datasets: s.datasets },
    options: {
      animation: false,
      responsive: false,
      maintainAspectRatio: false,
      events: [],
      layout: {
        autoPadding: false,
        padding: { left: a.l - Y_AXIS_W, top: a.t, right: W - a.r, bottom: H - a.b - xh },
      },
      plugins: {
        legend: { display: false },
        tooltip: { enabled: false },
        title: { display: false },
      },
      scales: {
        x: {
          type: "linear",
          min: s.x[0],
          max: s.x[1],
          border: { display: false },
          grid: { color: "#ffffff", lineWidth: s.gridW, drawTicks: false },
          ticks: {
            display: s.showX,
            padding: s.xPad,
            autoSkip: false,
            maxRotation: 0,
            color: TICK_COLOR,
            font: { family: FONT, size: s.fontSize },
            callback: (v: any) => s.xFmt(Number(v)),
          },
          afterBuildTicks: (sc: any) => {
            sc.ticks = s.xTicks.map((v) => ({ value: v }));
          },
          afterFit: (sc: any) => {
            sc.height = xh;
          },
        },
        y: {
          type: "linear",
          min: s.y[0],
          max: s.y[1],
          border: { display: false },
          grid: { color: "#ffffff", lineWidth: s.gridW, drawTicks: false },
          ticks: {
            padding: s.yPad,
            autoSkip: false,
            color: TICK_COLOR,
            font: { family: FONT, size: s.fontSize },
            callback: (v: any) => s.yFmt(Number(v)),
          },
          afterBuildTicks: (sc: any) => {
            sc.ticks = s.yTicks.map((v) => ({ value: v }));
          },
          afterFit: (sc: any) => {
            sc.width = Y_AXIS_W;
          },
        },
      },
    } as any,
    plugins: [bgPlugin, ...s.plugins],
  });
}

const canvasStyle: React.CSSProperties = { position: "absolute", left: 0, top: 0 };

function Label(props: {
  cx: number;
  cy: number;
  size: number;
  lh?: number;
  rot?: number;
  w?: number;
  lines: React.ReactNode[];
}) {
  const { cx, cy, size, rot = 0, lines } = props;
  const lh = props.lh ?? size;
  const w = props.w ?? 300;
  const h = lh * lines.length;
  return (
    <div
      style={{
        position: "absolute",
        left: cx - w / 2,
        top: cy - h / 2,
        width: w,
        height: h,
        fontSize: size,
        lineHeight: `${lh}px`,
        textAlign: "center",
        color: "#111",
        whiteSpace: "nowrap",
        transform: rot ? `rotate(${rot}deg)` : undefined,
        transformOrigin: "center center",
      }}
    >
      {lines.map((l, i) => (
        <div key={i}>{l}</div>
      ))}
    </div>
  );
}

export default function App() {
  const tcRef = useRef<HTMLCanvasElement>(null);
  const tsRef = useRef<HTMLCanvasElement>(null);
  const bcRef = useRef<HTMLCanvasElement>(null);
  const bsRef = useRef<HTMLCanvasElement>(null);

  useEffect(() => {
    const charts: Chart[] = [];
    const topR = 2.7;
    const botR = 3.3;
    const t5 = TOP_STEP / 5;
    const b3 = BOT_STEP / 3;
    const fLo = 0.007;
    const fHi = 0.013;
    charts.push(
      buildChart(tcRef.current!, {
        area: TC,
        x: [-0.2645, 5.311],
        y: [0.652, 6.196],
        xTicks: topXTicks,
        xFmt: (v) => String(v),
        showX: false,
        xAxisH: 0,
        xPad: 4,
        yTicks: covTicks,
        yFmt: (v) => v.toFixed(1),
        yPad: 6,
        fontSize: 13.5,
        gridW: 1.2,
        datasets: [
          ds(rowPts(topCovA, TOP_STEP, 0), BLACK, topR),
          ds(rowPts(topCovD, TOP_STEP, t5), BLACK, topR),
          ds(rowPts(topCovB, TOP_STEP, 2 * t5), BLACK, topR),
          ds(rowPts(topCovE, TOP_STEP, 3 * t5), BLACK, topR),
          ds(rowPts(topCovC, TOP_STEP, 4 * t5), BLACK, topR),
          ds(rowPts(botCovA, BOT_STEP, 0), BLACK, topR),
          ds(rowPts(botCovM, BOT_STEP, b3), BLACK, topR),
          ds(rowPts(botCovB, BOT_STEP, 2 * b3), BLACK, topR),
          ds(rowPts(botCovLo, FRINGE_STEP, fLo), BLACK, topR),
          ds(rowPts(botCovHi, FRINGE_STEP, fHi), BLACK, topR),
          ds(pairPts(botCovOut), BLACK, topR),
          ds(pairPts(topCovOut), BLACK, topR),
        ],
        plugins: [],
      })
    );
    charts.push(
      buildChart(tsRef.current!, {
        area: TS,
        x: [-0.2645, 5.311],
        y: [-5, 105],
        xTicks: topXTicks,
        xFmt: (v) => String(v),
        showX: true,
        xAxisH: 30,
        xPad: 3.5,
        yTicks: snpTicks,
        yFmt: (v) => String(v),
        yPad: 6,
        fontSize: 13.5,
        gridW: 1.2,
        datasets: [
          ds(rowPts(topSnpA, TOP_STEP, 0), BLUE, topR),
          ds(rowPts(topSnpD, TOP_STEP, t5), BLUE, topR),
          ds(rowPts(topSnpB, TOP_STEP, 2 * t5), BLUE, topR),
          ds(rowPts(topSnpE, TOP_STEP, 3 * t5), BLUE, topR),
          ds(rowPts(topSnpC, TOP_STEP, 4 * t5), BLUE, topR),
          ds(rowPts(botSnpA, BOT_STEP, 0), BLUE, topR),
          ds(rowPts(botSnpM, BOT_STEP, b3), BLUE, topR),
          ds(rowPts(botSnpB, BOT_STEP, 2 * b3), BLUE, topR),
          ds(rowPts(botSnpLo, FRINGE_STEP, fLo), BLUE, topR),
          ds(rowPts(botSnpHi, FRINGE_STEP, fHi), BLUE, topR),
          ds(pairPts(botSnpOut), BLUE, topR),
          ds(pairPts(topSnpOut), BLUE, topR),
        ],
        plugins: [zoomBoxPlugin],
      })
    );
    charts.push(
      buildChart(bcRef.current!, {
        area: BC,
        x: [-0.109, 2.105],
        y: [0.552, 6.186],
        xTicks: botXTicks,
        xFmt: (v) => v.toFixed(2),
        showX: false,
        xAxisH: 0,
        xPad: 7,
        yTicks: covTicks,
        yFmt: (v) => v.toFixed(1),
        yPad: 12,
        fontSize: 20,
        gridW: 1.8,
        datasets: [
          ds(rowPts(botCovA, BOT_STEP, 0), BLACK, botR),
          ds(rowPts(botCovM, BOT_STEP, b3), BLACK, botR),
          ds(rowPts(botCovB, BOT_STEP, 2 * b3), BLACK, botR),
          ds(rowPts(botCovLo, FRINGE_STEP, fLo), BLACK, botR),
          ds(rowPts(botCovHi, FRINGE_STEP, fHi), BLACK, botR),
          ds(pairPts(botCovOut), BLACK, botR),
        ],
        plugins: [refLinesPlugin(copyLevels), leaderPlugin(copyLevels, copyLeaderEnd)],
      })
    );
    charts.push(
      buildChart(bsRef.current!, {
        area: BS,
        x: [-0.109, 2.105],
        y: [-5, 105],
        xTicks: botXTicks,
        xFmt: (v) => v.toFixed(2),
        showX: true,
        xAxisH: 40,
        xPad: 7,
        yTicks: snpTicks,
        yFmt: (v) => String(v),
        yPad: 12,
        fontSize: 20,
        gridW: 1.8,
        datasets: [
          ds(rowPts(botSnpA, BOT_STEP, 0), BLUE, botR),
          ds(rowPts(botSnpM, BOT_STEP, b3), BLUE, botR),
          ds(rowPts(botSnpB, BOT_STEP, 2 * b3), BLUE, botR),
          ds(rowPts(botSnpLo, FRINGE_STEP, fLo), BLUE, botR),
          ds(rowPts(botSnpHi, FRINGE_STEP, fHi), BLUE, botR),
          ds(pairPts(botSnpOut), BLUE, botR),
        ],
        plugins: [refLinesPlugin(snpLevels), leaderPlugin(snpLevels, snpLeaderEnd)],
      })
    );
    return () => charts.forEach((c) => c.destroy());
  }, []);

  return (
    <div
      style={{
        position: "absolute",
        left: 0,
        top: 0,
        width: W,
        height: H,
        overflow: "hidden",
        background: "#ffffff",
        fontFamily: FONT,
        color: "#111",
      }}
    >
      <canvas ref={tcRef} width={W} height={H} style={canvasStyle} />
      <canvas ref={tsRef} width={W} height={H} style={canvasStyle} />
      <canvas ref={bcRef} width={W} height={H} style={canvasStyle} />
      <canvas ref={bsRef} width={W} height={H} style={canvasStyle} />

      <div style={{ position: "absolute", left: -14, top: -20, fontSize: 32, lineHeight: "32px", fontWeight: 700, color: "#000" }}>A</div>

      <div style={{ position: "absolute", left: 0, width: 1343, top: 6.8, fontSize: 41, lineHeight: "41px", textAlign: "center", color: "#000" }}>
        POP33_31: Chromosome 1
      </div>
      <div style={{ position: "absolute", left: 0, width: 1368, top: 217, fontSize: 41, lineHeight: "41px", textAlign: "center", color: "#000" }}>
        0Mb to 20Mb
      </div>

      <Label cx={52.5} cy={300} size={29} lh={29.5} rot={-90} w={220} lines={["Relative", "read", "coverage"]} />
      <Label cx={52.5} cy={443} size={29} lh={29.5} rot={-90} w={220} lines={[<i key="n">P. nigra</i>, "SNP", "frequency"]} />

      <Label cx={1283.7} cy={300} size={29} lh={27} rot={90} w={160} lines={["Copy", "number"]} />
      <Label cx={1274} cy={428} size={29} lh={29} rot={90} w={160} lines={["% SNP"]} />

      {copyLevels.map((v, i) => (
        <Label key={"c" + v} cx={copyLabelPos[i][0]} cy={copyLabelPos[i][1]} size={25} w={60} lines={[String(v)]} />
      ))}
      {snpLevels.map((v, i) => (
        <Label key={"s" + v} cx={snpLabelPos[i][0]} cy={snpLabelPos[i][1]} size={25} w={60} lines={[String(v)]} />
      ))}

      <div style={{ position: "absolute", left: 1164, top: 523, fontSize: 15, lineHeight: "15px", color: "#262626" }}>1e7</div>
    </div>
  );
}
